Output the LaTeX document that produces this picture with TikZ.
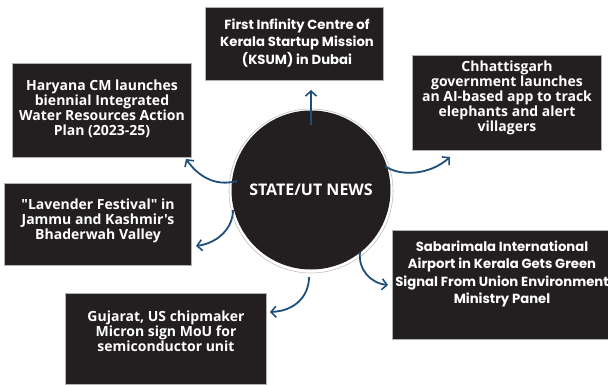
\documentclass[tikz,border=0pt]{standalone}
\usepackage{fontspec}
\setmainfont{Open Sans}[Ligatures=TeXOff]
\newfontfamily\geo{Poppins}
\usetikzlibrary{arrows.meta}
\definecolor{boxblack}{HTML}{231F20}
\definecolor{arrowblue}{HTML}{1D4F7C}
\tikzset{
  newsbox/.style={draw=gray!60, line width=0.6pt, fill=boxblack, inner sep=0pt},
  newstext/.style={text=white, align=center, font=\bfseries\fontsize{14}{15}\selectfont, inner sep=0pt},
  geotext/.style={text=white, align=center, font=\geo\bfseries\fontsize{13.2}{17.5}\selectfont, inner sep=0pt},
  link/.style={draw=arrowblue, line width=1.8pt, -{Straight Barb[length=5pt,width=11pt,line width=1.6pt]}}
}
\begin{document}
\begin{tikzpicture}[x=1pt,y=-1pt]
\useasboundingbox (0,0) rectangle (608,385);
% boxes
\node[newsbox, minimum width=178pt, minimum height=73pt] (kerala) at (294,43.5) {};
\node[newsbox, minimum width=179pt, minimum height=94pt] (haryana) at (101.5,110) {};
\node[newsbox, minimum width=189pt, minimum height=95pt] (chhat) at (506.5,102.5) {};
\node[newsbox, minimum width=187pt, minimum height=82pt] (lavender) at (97.5,224) {};
\node[newsbox, minimum width=201pt, minimum height=91pt] (gujarat) at (165.5,338.5) {};
\node[newsbox, minimum width=220pt, minimum height=109pt] (sabari) at (502,284.5) {};
% texts
\node[geotext] (keralat) at (297,43) {First Infinity Centre of\\Kerala Startup Mission\\(KSUM) in Dubai};
\node[newstext] (haryanat) at (102,109) {Haryana CM launches\\biennial Integrated\\Water Resources Action\\Plan (2023-25)};
\node[newstext] (chhatt) at (507,98) {Chhattisgarh\\government launches\\an AI-based app to track\\elephants and alert\\villagers};
\node[newstext] (lavendert) at (98,221) {"Lavender Festival" in\\Jammu and Kashmir's\\Bhaderwah Valley};
\node[newstext] (gujaratt) at (166,331) {Gujarat, US chipmaker\\Micron sign MoU for\\semiconductor unit};
\node[geotext] (sabarit) at (502,274) {Sabarimala International\\Airport in Kerala Gets Green\\Signal From Union Environment\\Ministry Panel};
% centre circle
\node[circle, draw=gray!50, line width=0.6pt, minimum size=164pt, inner sep=0pt] (ring) at (311,191) {};
\node[circle, fill=boxblack, minimum size=159pt, inner sep=0pt, text=white, font=\bfseries\fontsize{16}{16}\selectfont] (c) at (311,190) {STATE/UT NEWS};
% connector end points
\coordinate (sTop) at (311,125);
\coordinate (tTop) at (311,90);
\coordinate (sHar) at (237,181);
\coordinate (tHar) at (186,159);
\coordinate (sChh) at (385,166);
\coordinate (tChh) at (450,157);
\coordinate (sLav) at (233,210);
\coordinate (tLav) at (196,246);
\coordinate (sGuj) at (309,277);
\coordinate (tGuj) at (270,312);
\coordinate (sSab) at (360,252);
\coordinate (tSab) at (388,285);
% connectors
\draw[link] (sTop) -- (tTop);
\draw[link] (sHar) .. controls (215,187) and (198,176) .. (tHar);
\draw[link] (sChh) .. controls (400,177) and (430,175) .. (tChh);
\draw[link] (sLav) .. controls (233,228) and (218,243) .. (tLav);
\draw[link] (sGuj) .. controls (309,296) and (295,311) .. (tGuj);
\draw[link] (sSab) .. controls (358,269) and (370,283) .. (tSab);
\end{tikzpicture}
\end{document}
